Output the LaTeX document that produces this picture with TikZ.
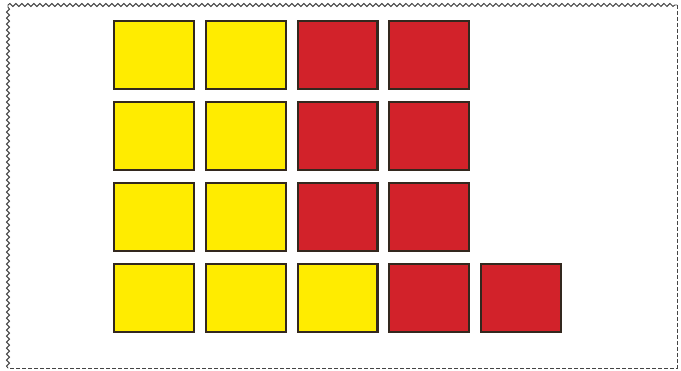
\documentclass[tikz,border=0pt]{standalone}
\usetikzlibrary{decorations.pathmorphing}
\definecolor{yel}{HTML}{FFEC00}
\definecolor{rd}{HTML}{D2222A}
\definecolor{edge}{HTML}{33281E}
\definecolor{frame}{HTML}{444444}
\tikzset{
  tile/.style={draw=edge, line width=2.2pt, minimum width=79.8pt, minimum height=67.8pt, inner sep=0pt, outer sep=0pt},
  ytile/.style={tile, fill=yel},
  rtile/.style={tile, fill=rd},
  wavy/.style={draw=frame, line width=0.9pt, decorate, decoration={snake, amplitude=1.5pt, segment length=6pt}},
  dashframe/.style={draw=frame, line width=0.9pt, dash pattern=on 4pt off 2pt}
}
\begin{document}
\begin{tikzpicture}[x=1pt,y=1pt]
\useasboundingbox (0,0) rectangle (681,371);
\fill[white] (0,0) rectangle (681,371);
\coordinate (bl) at (8,3);
\coordinate (tl) at (8,366);
\coordinate (tr) at (677,366);
\coordinate (br) at (677,3);
\draw[wavy] (bl) -- (tl);
\draw[wavy] (tl) -- (tr);
\draw[dashframe] (tr) -- (br) -- (bl);
% row 1
\node[ytile] (a1) at (154,316) {};
\node[ytile] (a2) at (245.75,316) {};
\node[rtile] (a3) at (337.5,316) {};
\node[rtile] (a4) at (429.25,316) {};
% row 2
\node[ytile] (b1) at (154,235) {};
\node[ytile] (b2) at (245.75,235) {};
\node[rtile] (b3) at (337.5,235) {};
\node[rtile] (b4) at (429.25,235) {};
% row 3
\node[ytile] (c1) at (154,154) {};
\node[ytile] (c2) at (245.75,154) {};
\node[rtile] (c3) at (337.5,154) {};
\node[rtile] (c4) at (429.25,154) {};
% row 4
\node[ytile] (d1) at (154,73) {};
\node[ytile] (d2) at (245.75,73) {};
\node[ytile] (d3) at (337.5,73) {};
\node[rtile] (d4) at (429.25,73) {};
\node[rtile] (d5) at (521,73) {};
\end{tikzpicture}
\end{document}
